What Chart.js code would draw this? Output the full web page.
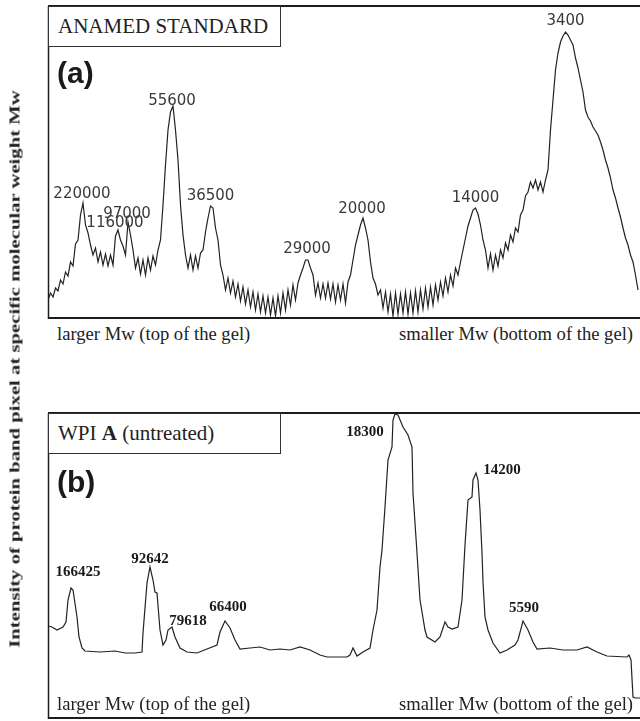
<!DOCTYPE html>
<html>
<head>
<meta charset="utf-8">
<script src="https://cdn.jsdelivr.net/npm/chart.js@4.4.1/dist/chart.umd.min.js"></script>
<style>
  body { margin: 0; background: #fff; }
  #fig { position: relative; width: 640px; height: 721px; overflow: hidden; font-family: "Liberation Serif", "Times New Roman", serif; color: #222; }
  canvas { position: absolute; left: 0; }
  #chartA { top: 0; }
  #chartB { top: 407px; }
  .tag { position: absolute; left: 48px; width: 233px; height: 41px; box-sizing: border-box; border: 1px solid #333; background: #fff; font-size: 21px; line-height: 39px; padding-left: 9px; white-space: nowrap; }
  .letter { position: absolute; left: 57px; font-family: "Liberation Sans", Arial, sans-serif; font-weight: bold; font-size: 30px; line-height: 30px; color: #1a1a1a; }
  .end { position: absolute; font-size: 18.6px; line-height: 22px; white-space: nowrap; }
  .left { left: 57px; }
  .right { right: 7px; }
  #ytitle { position: absolute; left: 15px; top: 369px; font-weight: bold; font-size: 15px; white-space: nowrap; transform: translate(-50%, -50%) rotate(-90deg) scaleX(1.38); }
</style>
</head>
<body>
<div id="fig">
  <canvas id="chartA" width="640" height="321"></canvas>
  <canvas id="chartB" width="640" height="314"></canvas>
  <div class="tag" style="top:6px">ANAMED STANDARD</div>
  <div class="letter" style="top:58px">(a)</div>
  <div class="end left" style="top:323px">larger Mw (top of the gel)</div>
  <div class="end right" style="top:323px">smaller Mw (bottom of the gel)</div>
  <div class="tag" style="top:413px">WPI <b>A</b> (untreated)</div>
  <div class="letter" style="top:467px">(b)</div>
  <div class="end left" style="top:693px">larger Mw (top of the gel)</div>
  <div class="end right" style="top:693px">smaller Mw (bottom of the gel)</div>
  <div id="ytitle">Intensity of protein band pixel at specific molecular weight Mw</div>
</div>
<script>
// (a) marker lane, densitometry sampled every 2.5 px along the lane
const stepA = 2.5;
const intensityA = [
  19, 26, 22, 31, 28, 39, 35, 47, 43, 57,
  53, 75, 79, 104, 116, 94, 86, 74, 64, 71,
  57, 67, 54, 65, 53, 64, 54, 83, 89, 79,
  73, 64, 97, 84, 69, 51, 61, 45, 59, 44,
  61, 49, 63, 54, 69, 79, 114, 154, 189, 207,
  213, 189, 159, 114, 84, 64, 51, 64, 49, 63,
  51, 66, 69, 87, 101, 113, 111, 91, 79, 54,
  44, 29, 41, 26, 38, 22, 35, 18, 32, 15,
  29, 12, 27, 9, 25, 7, 23, 6, 22, 4,
  21, 3, 23, 6, 26, 9, 29, 14, 34, 19,
  36, 44, 51, 59, 59, 51, 44, 24, 36, 21,
  35, 21, 36, 20, 35, 17, 34, 19, 35, 16,
  37, 44, 59, 74, 84, 94, 101, 91, 79, 57,
  41, 35, 24, 29, 11, 27, 7, 25, 3, 26,
  5, 25, 6, 27, 5, 26, 6, 28, 7, 29,
  10, 31, 12, 32, 14, 34, 19, 37, 23, 41,
  27, 44, 33, 51, 44, 57, 69, 81, 93, 101,
  109, 111, 105, 94, 79, 69, 51, 65, 49, 64,
  53, 69, 61, 76, 69, 84, 77, 91, 87, 104,
  109, 123, 127, 137, 131, 139, 129, 137, 127, 139,
  149, 189, 219, 249, 266, 277, 283, 287, 284, 279,
  274, 261, 251, 239, 227, 209, 202, 198, 192, 188,
  184, 177, 169, 159, 151, 141, 129, 121, 111, 102,
  91, 81, 74, 64, 57, 44, 29
];
const positionA = intensityA.map((v, i) => i * stepA);
const peakNamesA = ['220000', '116000', '97000', '55600', '36500', '29000', '20000', '14000', '3400'];
const peakIndexA = [14, 28, 32, 50, 65, 104, 126, 171, 207];

// (b) WPI A untreated
const positionB = [
  0, 4, 9, 15, 18, 20, 23, 25, 29, 31, 34, 37, 52, 67, 77, 87, 94, 95, 99, 102,
  105, 107, 109, 112, 115, 118, 120, 124, 127, 132, 139, 149, 159, 169, 172, 177, 182, 187, 192, 202,
  212, 222, 232, 242, 252, 262, 272, 279, 299, 302, 305, 309, 315, 322, 325, 329, 332, 334, 337, 340,
  344, 345, 347, 350, 355, 360, 364, 365, 369, 372, 377, 379, 387, 392, 397, 400, 404, 410, 414, 417,
  420, 424, 425, 428, 430, 432, 434, 435, 437, 440, 445, 452, 459, 467, 470, 475, 480, 485, 489, 502,
  515, 529, 539, 549, 559, 579, 581, 583, 585, 587, 592
];
const intensityB = [
  93, 92, 89, 92, 97, 119, 131, 129, 102, 82, 71, 68, 67, 68, 66, 66, 67, 86, 136, 152,
  139, 127, 126, 89, 74, 79, 89, 92, 82, 71, 67, 66, 70, 74, 87, 98, 91, 79, 70, 71,
  72, 69, 70, 69, 72, 69, 64, 62, 62, 64, 71, 63, 67, 71, 89, 109, 152, 169, 212, 259,
  272, 299, 305, 304, 292, 284, 272, 226, 166, 119, 89, 82, 77, 82, 97, 92, 90, 92, 119, 174,
  219, 222, 239, 246, 239, 209, 166, 137, 102, 89, 76, 66, 69, 74, 79, 98, 89, 77, 70, 71,
  69, 69, 72, 67, 63, 62, 64, 59, 22, 21, 21
];
const peakNamesB = ['166425', '92642', '79618', '66400', '18300', '14200', '5590'];
const peakIndexB = [6, 19, 27, 35, 62, 83, 95];

// frame around the plot area + peak labels through the scales
const framePlugin = {
  id: 'frame',
  afterDatasetsDraw(chart) {
    const { ctx, chartArea: a } = chart;
    ctx.save();
    ctx.strokeStyle = '#1c1c1c';
    ctx.lineWidth = 2;
    ctx.beginPath();
    ctx.moveTo(a.left, a.top); ctx.lineTo(a.right + 2, a.top);
    ctx.moveTo(a.left, a.bottom - 1); ctx.lineTo(a.right + 2, a.bottom - 1);
    ctx.stroke();
    ctx.lineWidth = 1.5;
    ctx.beginPath();
    ctx.moveTo(a.left + 0.5, a.top); ctx.lineTo(a.left + 0.5, a.bottom);
    ctx.stroke();
    ctx.restore();
  }
};

const peakPlugin = {
  id: 'peaks',
  afterDatasetsDraw(chart, args, opts) {
    const { ctx, scales } = chart;
    const pts = chart.data.datasets[0].data;
    ctx.save();
    ctx.font = opts.font;
    ctx.fillStyle = opts.color;
    ctx.textAlign = 'center';
    ctx.textBaseline = 'alphabetic';
    opts.names.forEach((name, k) => {
      const p = pts[opts.index[k]];
      const x = scales.x.getPixelForValue(p.x) + opts.offsets[k][0];
      const y = scales.y.getPixelForValue(p.y) + opts.offsets[k][1];
      ctx.fillText(name, x, y);
    });
    ctx.restore();
  }
};

function makeChart(id, xs, ys, yMax, pad, peaks) {
  return new Chart(document.getElementById(id), {
    type: 'line',
    data: {
      datasets: [{
        data: xs.map((x, i) => ({ x: x, y: ys[i] })),
        borderColor: '#222',
        borderWidth: 1.2,
        pointRadius: 0,
        tension: 0,
        fill: false
      }]
    },
    options: {
      responsive: false,
      animation: false,
      layout: { padding: pad },
      scales: {
        x: { type: 'linear', display: false, min: 0, max: 592 },
        y: { display: false, min: 0, max: yMax }
      },
      plugins: {
        legend: { display: false },
        tooltip: { enabled: false },
        peaks: peaks
      }
    },
    plugins: [framePlugin, peakPlugin]
  });
}

makeChart('chartA', positionA, intensityA, 313, { left: 48, top: 6, right: 0, bottom: 2 }, {
  names: peakNamesA,
  index: peakIndexA,
  offsets: [[-1, -5], [-3, -3], [-1, -4], [-1, -1], [0, -6], [-1, -7], [-1, -5], [0, -6], [0, -7]],
  font: '15px "DejaVu Sans", sans-serif',
  color: '#3a3a3a'
});

makeChart('chartB', positionB, intensityB, 306, { left: 48, top: 6, right: 0, bottom: 2 }, {
  names: peakNamesB,
  index: peakIndexB,
  offsets: [[7, -12], [0, -4], [16, -2], [3, -10], [-30, 22], [26, 1], [1, -9]],
  font: 'bold 15px "Liberation Serif", serif',
  color: '#1a1a1a'
});
</script>
</body>
</html>
